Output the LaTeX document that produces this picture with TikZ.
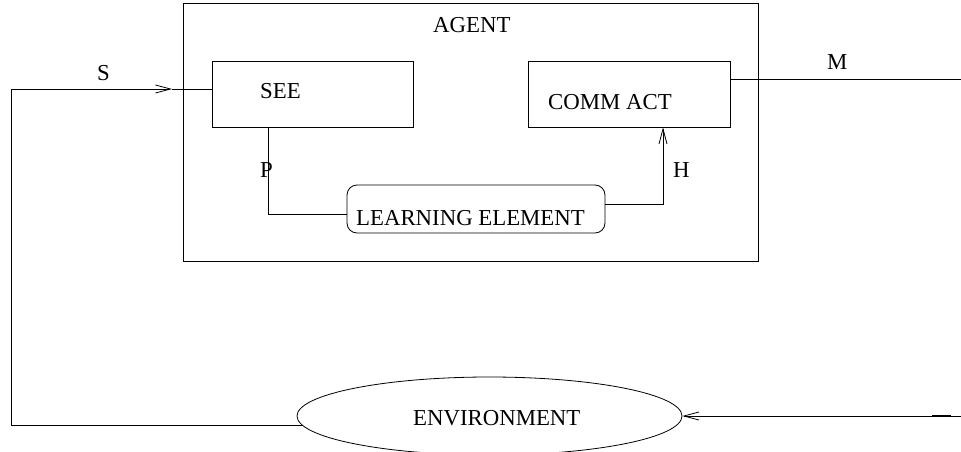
\documentclass[tikz,border=0pt]{standalone}
\usepackage{fontspec}
\setmainfont{Liberation Serif}
\usetikzlibrary{arrows.meta,shapes.geometric}

\tikzset{
  wire/.style={line width=0.8pt, draw=black},
  arr/.style={wire, -{Straight Barb[length=15pt,width=8pt,line width=0.8pt]}},
  blockbox/.style={wire, rectangle, inner sep=0pt},
  roundbox/.style={wire, rectangle, rounded corners=10pt, inner sep=0pt},
  envshape/.style={wire, ellipse, inner sep=0pt},
  txt/.style={font=\fontsize{22.8}{27}\selectfont, inner sep=0pt, anchor=base west}
}

\begin{document}
\begin{tikzpicture}[x=1pt,y=1pt]
\useasboundingbox (0,0) rectangle (961,-452);

% agent frame and its inner blocks
\node[blockbox, minimum width=575pt, minimum height=258pt] (agent) at (470.5,-132) {};
\node[txt] (agentlbl) at (433,-33) {AGENT};

\node[blockbox, minimum width=201pt, minimum height=66pt] (see) at (312.5,-94) {};
\node[txt] (seelbl) at (260,-99) {SEE};

\node[blockbox, minimum width=202pt, minimum height=66pt] (comm) at (629,-94) {};
\node[txt] (commlbl) at (548,-110) {COMM ACT};

\node[roundbox, minimum width=258pt, minimum height=48pt] (le) at (476,-209) {};
\node[txt] (lelbl) at (356,-225) {LEARNING ELEMENT};

% environment
\node[envshape, minimum width=385pt, minimum height=78pt] (env) at (489.5,-416) {};
\node[txt] (envlbl) at (413,-425) {ENVIRONMENT};

% free ends and bends
\coordinate (lc) at (11,-89);
\coordinate (stip) at (172,-89);
\coordinate (mend) at (961,-79);
\coordinate (rin) at (961,-416);

% percept S from the environment into SEE
\draw[arr] (env.183) -| (lc) -- (stip);
\draw[wire] (stip) -- ([yshift=5pt]see.west);
\node[txt] (slbl) at (97,-81) {S};

% P from SEE to the learning element
\draw[wire] ([xshift=57pt]see.south west) |- ([yshift=-5pt]le.west);
\node[txt] (plbl) at (260,-177) {P};

% H from the learning element to COMM ACT
\draw[arr] ([yshift=5pt]le.east) -| ([xshift=34pt]comm.south);
\node[txt] (hlbl) at (673,-177) {H};

% message M out of COMM ACT
\draw[wire] ([yshift=15pt]comm.east) -- (mend);
\node[txt] (mlbl) at (827,-70) {M};

% input back into the environment
\draw[arr] (rin) -- (env.east);
\draw[line width=1.6pt] (932,-416) -- (951,-416);
\end{tikzpicture}
\end{document}
